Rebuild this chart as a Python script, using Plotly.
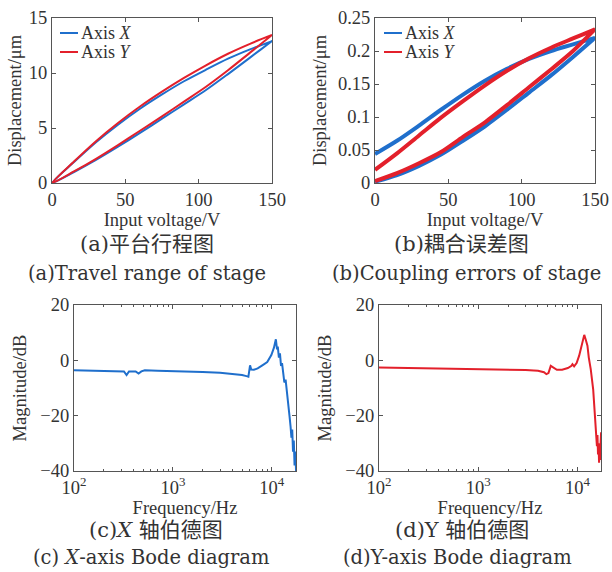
import plotly.graph_objects as go

# ---------------- data ----------------
voltage = [0, 15, 30, 45, 60, 75, 90, 105, 120, 135, 150]

# (a) travel range (um): rising (lower) and falling (upper) branches
travel_x_rise = [0, 1.0, 2.1, 3.3, 4.55, 5.85, 7.15, 8.45, 9.9, 11.4, 12.9]
travel_x_fall = [0, 1.9, 3.7, 5.3, 6.75, 8.05, 9.25, 10.3, 11.3, 12.15, 12.9]
travel_y_rise = [0, 1.05, 2.2, 3.45, 4.75, 6.05, 7.4, 8.75, 10.25, 11.85, 13.45]
travel_y_fall = [0, 1.95, 3.8, 5.45, 6.95, 8.3, 9.55, 10.7, 11.75, 12.65, 13.45]

# (b) coupling errors (um)
coupling_x_rise = [0.002, 0.012, 0.026, 0.043, 0.064, 0.086, 0.111, 0.137, 0.163, 0.191, 0.220]
coupling_x_fall = [0.044, 0.064, 0.087, 0.111, 0.134, 0.155, 0.173, 0.188, 0.200, 0.210, 0.220]
coupling_y_rise = [0.003, 0.015, 0.030, 0.047, 0.070, 0.092, 0.118, 0.145, 0.172, 0.200, 0.233]
coupling_y_fall = [0.020, 0.045, 0.072, 0.099, 0.124, 0.148, 0.170, 0.189, 0.205, 0.219, 0.233]

# (c) X-axis Bode magnitude
bode_x_freq = [100, 150, 200, 280, 320, 340, 360, 420, 450, 480, 520, 700, 1000, 1500,
               2000, 3000, 4000, 5000, 5550, 5800, 6030, 6200, 6600, 7200, 8100, 9000,
               9900, 10500, 11000, 11300, 11500, 11800, 12100, 12400, 12700, 13000,
               13400, 13800, 14200, 14700, 15100, 15500, 15800, 16100, 16400, 16700,
               17000, 17300, 17600]
bode_x_mag = [-3.6, -3.8, -3.9, -3.9, -4.0, -5.3, -4.0, -4.0, -4.8, -4.0, -3.6, -3.8, -3.9, -4.1,
              -4.2, -4.5, -4.9, -5.3, -5.7, -5.9, -1.8, -3.3, -3.4, -2.9, -1.7, -0.6,
              1.9, 4.5, 7.6, 4.0, 5.0, 1.0, 2.5, -2.0, -1.0, -5.5,
              -8.0, -7.0, -12.0, -16.0, -20.0, -24.0, -28.0, -25.0, -33.0, -29.0,
              -38.0, -33.0, -40.0]

# (d) Y-axis Bode magnitude
bode_y_freq = [100, 200, 500, 1000, 2000, 3000, 4000, 4600, 4860, 5100, 5380, 5700, 6200,
               7000, 8000, 8700, 8900, 9250, 9800, 10400, 11000, 11400, 11700, 12100,
               12600, 13000, 13600, 14400, 15100, 15500, 15700, 15900, 16100, 16300,
               16500, 16700, 16900, 17100, 17300]
bode_y_mag = [-2.6, -2.8, -3.0, -3.1, -3.3, -3.5, -3.8, -4.3, -5.0, -4.6, -2.0, -2.6, -3.4,
              -3.4, -2.8, -2.0, -1.4, -2.2, -1.0, 1.7, 5.0, 8.0, 9.2, 7.5,
              5.3, 1.0, -3.2, -10.6, -20.0, -25.0, -31.0, -27.0, -34.0, -30.0,
              -37.0, -32.0, -36.0, -30.0, -26.0]

BLUE = "#1f6fcc"
RED = "#e3202b"
TXT = "#333333"
AX = "#555555"
SERIF = "Liberation Serif, Times New Roman, serif"

W, H = 612, 572


def px(x):
    return x / W


def py(y):
    return 1 - y / H


def loop(v, rise, fall):
    return v + v[::-1], rise + fall[::-1]


fig = go.Figure()

# (a)
for rise, fall, c, name in [(travel_x_rise, travel_x_fall, BLUE, "Axis X"),
                            (travel_y_rise, travel_y_fall, RED, "Axis Y")]:
    xx, yy = loop(voltage, rise, fall)
    fig.add_trace(go.Scatter(x=xx, y=yy, mode="lines", name=name, showlegend=False,
                             line=dict(color=c, width=2, shape="spline", smoothing=0.8),
                             xaxis="x", yaxis="y"))
# (b)
for rise, fall, c, name in [(coupling_x_rise, coupling_x_fall, BLUE, "Axis X"),
                            (coupling_y_rise, coupling_y_fall, RED, "Axis Y")]:
    xx, yy = loop(voltage, rise, fall)
    fig.add_trace(go.Scatter(x=xx, y=yy, mode="lines", name=name, showlegend=False,
                             line=dict(color=c, width=4, shape="spline", smoothing=0.8),
                             xaxis="x2", yaxis="y2"))
# (c), (d)
fig.add_trace(go.Scatter(x=bode_x_freq, y=bode_x_mag, mode="lines", showlegend=False,
                         line=dict(color=BLUE, width=2), xaxis="x3", yaxis="y3"))
fig.add_trace(go.Scatter(x=bode_y_freq, y=bode_y_mag, mode="lines", showlegend=False,
                         line=dict(color=RED, width=2), xaxis="x4", yaxis="y4"))

tickfont = dict(family=SERIF, size=18.5, color=TXT)
common = dict(showline=True, linecolor=AX, linewidth=1, mirror="ticks", ticks="inside",
              ticklen=4, tickcolor=AX, showgrid=False, zeroline=False, tickfont=tickfont,
              automargin=False)

minor_vals = [v * m for m in (100, 1000) for v in range(2, 10)] + [20000]
log_ticks = dict(type="log", tickvals=[100, 1000, 10000],
                 ticktext=["10<sup>2</sup>", "10<sup>3</sup>", "10<sup>4</sup>"],
                 minor=dict(ticks="inside", ticklen=2, tickcolor=AX, tickvals=minor_vals))

ya = [py(183), py(18)]
yc = [py(471), py(305)]

fig.update_layout(
    width=W, height=H, margin=dict(l=0, r=0, t=0, b=0),
    paper_bgcolor="white", plot_bgcolor="white",
    xaxis=dict(common, domain=[px(52), px(272)], range=[0, 150], tickvals=[0, 50, 100, 150],
               anchor="y", title=dict(text="Input voltage/V", font=tickfont, standoff=0)),
    yaxis=dict(common, domain=ya, range=[0, 15], tickvals=[0, 5, 10, 15], anchor="x",
               title=dict(text="Displacement/μm", font=tickfont, standoff=2)),
    xaxis2=dict(common, domain=[px(375), px(595)], range=[0, 150], tickvals=[0, 50, 100, 150],
                anchor="y2", title=dict(text="Input voltage/V", font=tickfont, standoff=0)),
    yaxis2=dict(common, domain=ya, range=[0, 0.25],
                tickvals=[0, 0.05, 0.1, 0.15, 0.2, 0.25],
                ticktext=["0", "0.05", "0.1", "0.15", "0.2", "0.25"], anchor="x2",
                title=dict(text="Displacement/μm", font=tickfont, standoff=6)),
    xaxis3=dict(common, domain=[px(74), px(296)], range=[2, 4.245], anchor="y3",
                title=dict(text="Frequency/Hz", font=tickfont, standoff=0), **log_ticks),
    yaxis3=dict(common, domain=yc, range=[-40, 20], tickvals=[-40, -20, 0, 20], anchor="x3",
                title=dict(text="Magnitude/dB", font=tickfont, standoff=8)),
    xaxis4=dict(common, domain=[px(379), px(601)], range=[2, 4.237], anchor="y4",
                title=dict(text="Frequency/Hz", font=tickfont, standoff=0), **log_ticks),
    yaxis4=dict(common, domain=yc, range=[-40, 20], tickvals=[-40, -20, 0, 20], anchor="x4",
                title=dict(text="Magnitude/dB", font=tickfont, standoff=8)),
)

# manual legends (short line samples as in the reference)
legend_font = dict(family=SERIF, size=18, color=TXT)
for (x0, x1, xt) in [(60, 78, 79), (384, 402, 403)]:
    for (yy, c, label) in [(33, BLUE, "Axis <i>X</i>"), (52, RED, "Axis <i>Y</i>")]:
        fig.add_shape(type="line", xref="paper", yref="paper", x0=px(x0), x1=px(x1),
                      y0=py(yy), y1=py(yy), line=dict(color=c, width=2))
        fig.add_annotation(x=px(xt), y=py(yy), xref="paper", yref="paper", text=label,
                           showarrow=False, xanchor="left", yanchor="middle", font=legend_font,
                           height=18)

# captions
cn_font = dict(family="DejaVu Serif, Noto Sans CJK SC", size=21, color=TXT)
en_font = dict(family="DejaVu Serif, serif", size=19.5, color=TXT)
captions = [
    (147, 244, "(a)平台行程图", cn_font), (147, 274, "(a)Travel range of stage", en_font),
    (461, 244, "(b)耦合误差图", cn_font), (466, 274, "(b)Coupling errors of stage", en_font),
    (156, 530, "(c)<i>X</i> 轴伯德图", cn_font), (151, 557, "(c) <i>X</i>-axis Bode diagram", en_font),
    (462, 530, "(d)Y 轴伯德图", cn_font), (457, 557, "(d)Y-axis Bode diagram", en_font),
]
for (cx, cy, t, f) in captions:
    fig.add_annotation(x=px(cx), y=py(cy), xref="paper", yref="paper", text=t,
                       showarrow=False, xanchor="center", yanchor="middle", font=f)

fig.write_html("out.html", config={"displayModeBar": False},
               post_script="document.body.style.margin='0';")
